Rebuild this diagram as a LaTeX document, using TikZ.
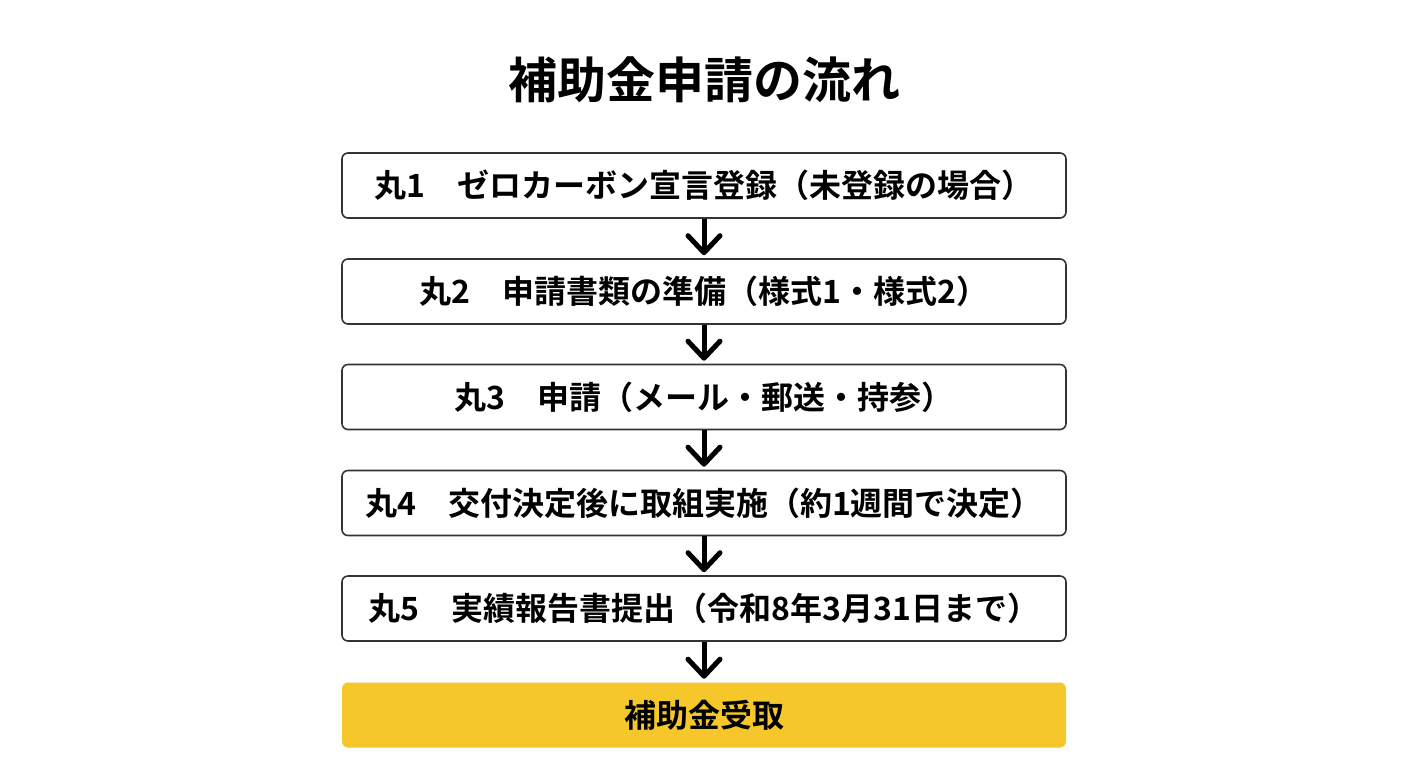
\documentclass[tikz,border=0pt]{standalone}
\usepackage{fontspec}
\setmainfont{Noto Sans CJK JP}[BoldFont={* Bold}]
\usetikzlibrary{arrows.meta}
\definecolor{stepline}{HTML}{333333}
\definecolor{goalyellow}{HTML}{F5C72A}

\begin{document}
\begin{tikzpicture}[x=0.5pt, y=-0.5pt,
		stepbox/.style={draw=stepline, line width=0.8pt, rounded corners=3pt, fill=white,
			minimum width=362pt, minimum height=32.5pt, inner sep=0pt,
			font=\bfseries\fontsize{16}{18}\selectfont},
		goalbox/.style={stepbox, draw=none, fill=goalyellow},
		flow/.style={line width=2.5pt, -{Straight Barb[length=8.5pt, width=16pt, line cap=round, line join=round]}, shorten >=1.5pt}]
			%%%%% START %%%%%
			\useasboundingbox (0, 0) rectangle (1408, 768);
			\fill[white] (0, 0) rectangle (1408, 768);
			
			\node[font=\bfseries\fontsize{24.5}{28}\selectfont] (title) at (704, 80) {補助金申請の流れ};
			
			\node[stepbox] (s1) at (704, 185.5) {丸1　ゼロカーボン宣言登録（未登録の場合）};
			\node[stepbox] (s2) at (704, 291.5) {丸2　申請書類の準備（様式1・様式2）};
			\node[stepbox] (s3) at (704, 397) {丸3　申請（メール・郵送・持参）};
			\node[stepbox] (s4) at (704, 503) {丸4　交付決定後に取組実施（約1週間で決定）};
			\node[stepbox] (s5) at (704, 608.5) {丸5　実績報告書提出（令和8年3月31日まで）};
			\node[goalbox] (goal) at (704, 715) {補助金受取};
			
			\draw[flow] (s1) -- (s2);
			\draw[flow] (s2) -- (s3);
			\draw[flow] (s3) -- (s4);
			\draw[flow] (s4) -- (s5);
			\draw[flow] (s5) -- (goal);
			%%%%% END %%%%%
\end{tikzpicture}
\end{document}
